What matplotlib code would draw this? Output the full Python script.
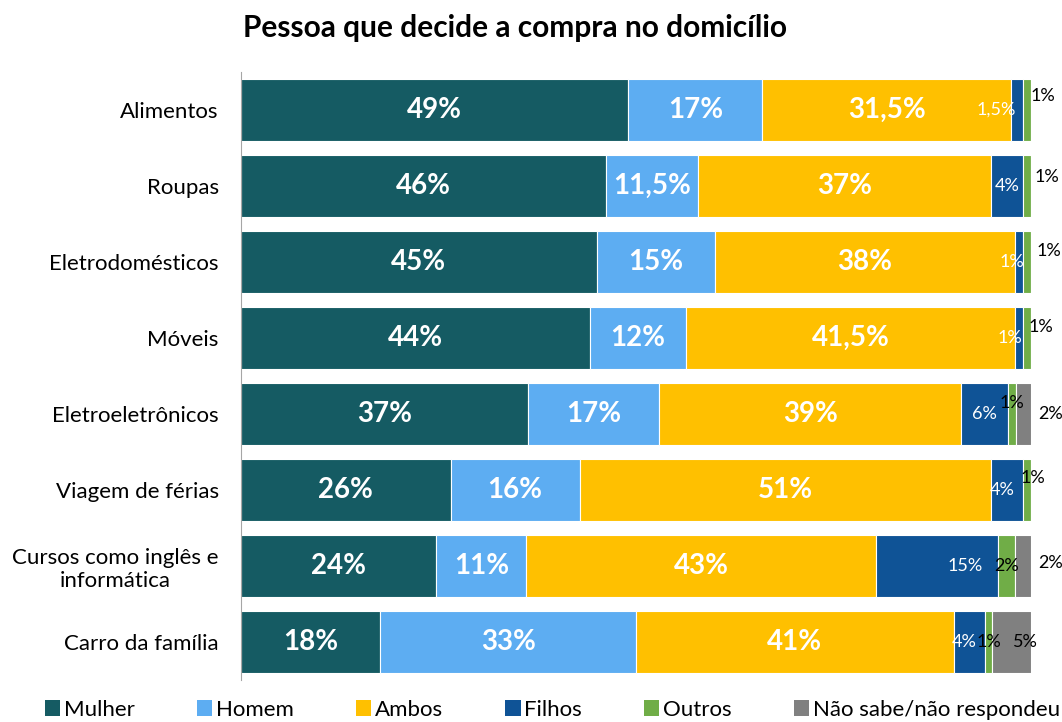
import numpy as np
import matplotlib.pyplot as plt
from matplotlib.patches import Patch

plt.rcParams['font.family'] = ['Lato', 'DejaVu Sans']

categories = ["Alimentos", "Roupas", "Eletrodomésticos", "Móveis", "Eletroeletrônicos",
              "Viagem de férias", "Cursos como inglês e\ninformática", "Carro da família"]
series = ["Mulher", "Homem", "Ambos", "Filhos", "Outros", "Não sabe/não respondeu"]
colors = ["#155B63", "#5DADF2", "#FFC000", "#0F5396", "#70AD47", "#808080"]

mulher = [49, 46, 45, 44, 37, 26, 24, 18]
homem = [17, 11.5, 15, 12, 17, 16, 11, 33]
ambos = [31.5, 37, 38, 41.5, 39, 51, 43, 41]
filhos = [1.5, 4, 1, 1, 6, 4, 15, 4]
outros = [1, 1, 1, 1, 1, 1, 2, 1]
nao_sabe = [0, 0, 0, 0, 2, 0, 2, 5]

# label offsets (pixels) for the small segments
filhos_dx = [-21, 0, -7, -9, 0, -5, 28, -5]
outros_dx = [16, 20, 22, 14, 0, 6, 0, 0]
outros_dy = [14, 9, 11, 11, 11, 12, 0, 0]
ns_dx = [0, 0, 0, 0, 27, 0, 28, 14]
ns_dy = [0, 0, 0, 0, 0, 0, 3, 0]

data = np.array([mulher, homem, ambos, filhos, outros, nao_sabe], dtype=float)
totals = data.sum(axis=0)
share = data / totals * 100

fig = plt.figure(figsize=(10.62, 7.22), dpi=100)
ax = fig.add_axes([241 / 1062, 42 / 722, 790 / 1062, 608 / 722])

y = np.arange(len(categories))
left = np.zeros(len(categories))
for i, (name, col) in enumerate(zip(series, colors)):
    ax.barh(y, share[i], left=left, height=0.82, color=col, label=name,
            edgecolor="white", linewidth=0.8)
    for j in range(len(categories)):
        v = data[i, j]
        if v == 0:
            continue
        cx = left[j] + share[i, j] / 2
        txt = (f"{v:g}%").replace(".", ",")
        if i < 3:
            ax.text(cx, y[j], txt, ha="center", va="center", color="white",
                    fontsize=20, fontweight="bold")
        elif i == 3:
            ax.annotate(txt, (cx, y[j]), xytext=(filhos_dx[j], 0),
                        textcoords="offset pixels", ha="center", va="center",
                        color="white", fontsize=13)
        elif i == 4:
            ax.annotate(txt, (cx, y[j]), xytext=(outros_dx[j], outros_dy[j]),
                        textcoords="offset pixels", ha="center", va="center",
                        color="black", fontsize=13)
        else:
            ax.annotate(txt, (cx, y[j]), xytext=(ns_dx[j], ns_dy[j]),
                        textcoords="offset pixels", ha="center", va="center",
                        color="black", fontsize=13)
    left += share[i]

ax.set_xlim(0, 100)
ax.set_ylim(len(categories) - 0.5, -0.5)
ax.set_yticks(y)
ax.set_yticklabels(categories, fontsize=16, ha="right", multialignment="center")
ax.tick_params(axis="y", length=0, pad=16)
ax.set_xticks([])
for s in ["top", "right", "bottom"]:
    ax.spines[s].set_visible(False)
ax.spines["left"].set_color("#A6A6A6")

fig.text(515 / 1062, 1 - 28 / 722, "Pessoa que decide a compra no domicílio", ha="center",
         va="center", fontsize=21.5, fontweight="bold")

handles = [Patch(facecolor=c, label=n) for n, c in zip(series, colors)]
fig.legend(handles=handles, loc="center", bbox_to_anchor=(0.52, 0.017), ncol=6,
           frameon=False, fontsize=16, handlelength=0.7, handleheight=0.7,
           handletextpad=0.15, columnspacing=2.8, borderpad=0.0)

fig.savefig("out.png", dpi=100)
